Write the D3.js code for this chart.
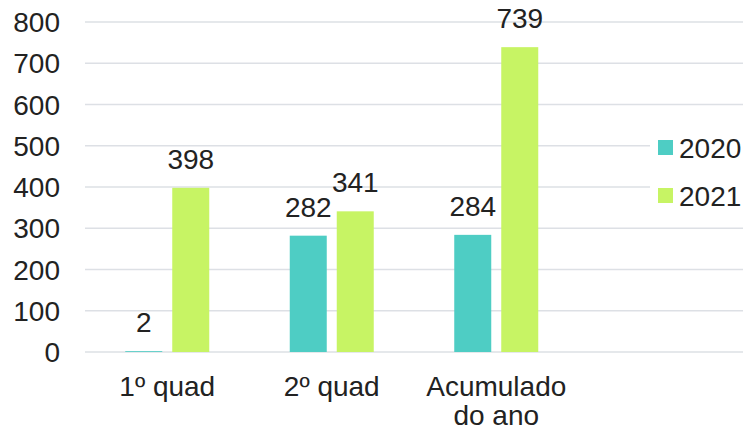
<!DOCTYPE html>
<html>
<head>
<meta charset="utf-8">
<script src="https://cdn.jsdelivr.net/npm/d3@7"></script>
<style>
  body { margin: 0; background: #fff; }
  text { font-family: "Liberation Sans", Arial, sans-serif; fill: #222; }
</style>
</head>
<body>
<div class="chart-container"></div>
<script>
const categories = [['1º quad'], ['2º quad'], ['Acumulado', 'do ano']];
const series = ['2020', '2021'];
const values2020 = [2, 282, 284];
const values2021 = [398, 341, 739];
const yTicks = [0, 100, 200, 300, 400, 500, 600, 700, 800];
const colors = ['#4ECDC4', '#C7F464'];

const width = 748, height = 433;
const plotLeft = 85, plotRight = 743, plotTop = 22, plotBottom = 352;
const fontSize = 28;

const svg = d3.select('.chart-container').append('svg')
    .attr('width', width)
    .attr('height', height);

const step = (plotRight - plotLeft) / 4;
const catKeys = categories.map(c => c.join(' '));

// x scale for categories (4th slot is left empty, legend sits there)
const x0 = d3.scaleBand()
    .domain(catKeys)
    .range([plotLeft, plotLeft + step * 3])
    .paddingInner(1 - 84 / step)
    .paddingOuter((1 - 84 / step) / 2);

const x1 = d3.scaleBand()
    .domain(series)
    .range([0, x0.bandwidth()])
    .paddingInner(10 / 47);

const y = d3.scaleLinear()
    .domain([0, 800])
    .range([plotBottom, plotTop]);

// grid
svg.append('g').attr('class', 'grid')
    .selectAll('line')
    .data(yTicks)
    .enter()
    .append('line')
        .attr('x1', plotLeft)
        .attr('x2', plotRight)
        .attr('y1', d => y(d))
        .attr('y2', d => y(d))
        .attr('stroke', '#DDE0E5')
        .attr('stroke-width', 1.4);

// y axis labels
svg.append('g')
    .selectAll('text')
    .data(yTicks)
    .enter()
    .append('text')
        .attr('x', 60)
        .attr('y', d => y(d))
        .attr('dy', '0.36em')
        .attr('text-anchor', 'end')
        .style('font-size', fontSize + 'px')
        .text(d => d);

const rows = catKeys.map((k, i) => ({key: k, vals: [values2020[i], values2021[i]]}));

const groups = svg.append('g').attr('id', 'bars')
    .selectAll('g')
    .data(rows)
    .enter()
    .append('g')
        .attr('transform', d => 'translate(' + x0(d.key) + ',0)');

groups.selectAll('rect')
    .data(d => d.vals.map((v, j) => ({s: series[j], v: v, c: colors[j]})))
    .enter()
    .append('rect')
        .attr('x', d => x1(d.s))
        .attr('y', d => y(d.v))
        .attr('width', x1.bandwidth())
        .attr('height', d => y(0) - y(d.v))
        .attr('fill', d => d.c);

groups.selectAll('text')
    .data(d => d.vals.map((v, j) => ({s: series[j], v: v})))
    .enter()
    .append('text')
        .attr('x', d => x1(d.s) + x1.bandwidth() / 2)
        .attr('y', d => y(d.v) - 19)
        .attr('text-anchor', 'middle')
        .style('font-size', fontSize + 'px')
        .text(d => d.v);

// category labels
const catLabels = svg.append('g')
    .selectAll('text')
    .data(categories)
    .enter()
    .append('text')
        .attr('text-anchor', 'middle')
        .style('font-size', fontSize + 'px');

catLabels.selectAll('tspan')
    .data((d, i) => d.map(line => ({line: line, key: catKeys[i]})))
    .enter()
    .append('tspan')
        .attr('x', d => x0(d.key) + x0.bandwidth() / 2)
        .attr('y', (d, i) => 396 + i * 29)
        .text(d => d.line);

// legend
const legend = svg.append('g').attr('id', 'legend');
legend.append('rect')
    .attr('x', 650).attr('y', 125)
    .attr('width', 98).attr('height', 92)
    .attr('fill', '#fff');

const items = legend.selectAll('g')
    .data(series)
    .enter()
    .append('g')
        .attr('transform', (d, i) => 'translate(658,' + (140 + i * 48) + ')');

items.append('rect')
    .attr('width', 15).attr('height', 15)
    .attr('fill', (d, i) => colors[i]);

items.append('text')
    .attr('x', 21)
    .attr('y', 7.5)
    .attr('dy', '0.36em')
    .style('font-size', fontSize + 'px')
    .text(d => d);
</script>
</body>
</html>
